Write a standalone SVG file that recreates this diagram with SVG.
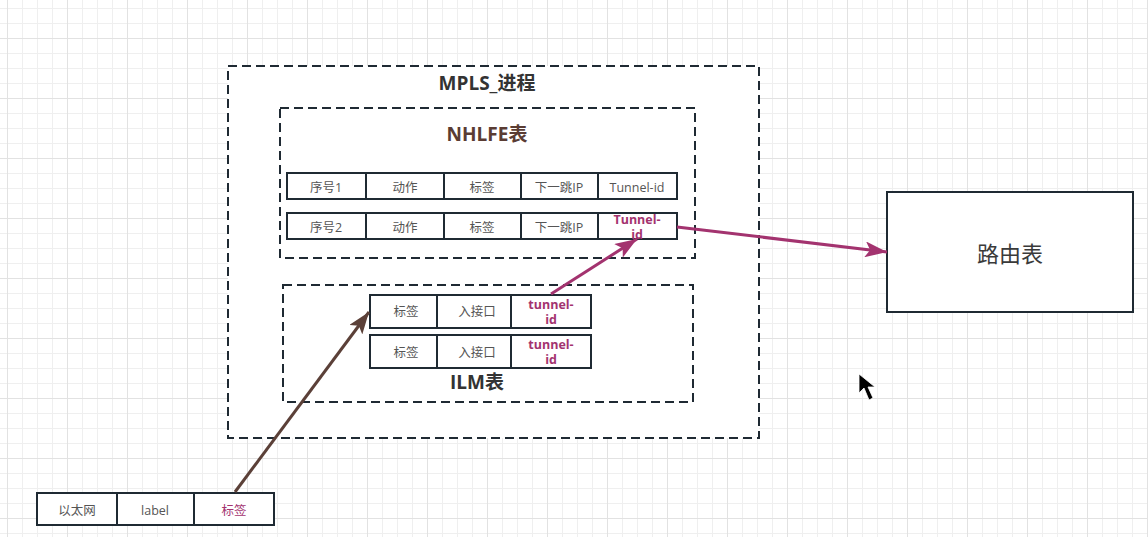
<svg xmlns="http://www.w3.org/2000/svg" width="1148" height="537" viewBox="0 0 1148 537">
<style>
.dash{fill:#fff;stroke:#1f2a33;stroke-width:2;stroke-dasharray:9 5}
.cell{fill:#fff;stroke:#1f2a33;stroke-width:2}
.t{font-family:"Open Sans","Noto Sans CJK SC",sans-serif;font-size:12.5px;fill:#555;text-anchor:middle;dominant-baseline:central}
.m{fill:#a3336f;font-weight:bold}
.title{font-family:"Open Sans","Noto Sans CJK SC",sans-serif;font-size:19px;font-weight:bold;fill:#333;text-anchor:middle;dominant-baseline:central}
.mag{stroke:#a3336f;stroke-width:3;fill:none}
.brn{stroke:#5b4038;stroke-width:3;fill:none}
</style>
<defs>
<pattern id="grid" patternUnits="userSpaceOnUse" x="7" y="38" width="60" height="60">
<path d="M15.5 0V60M30.5 0V60M45.5 0V60M0 15.5H60M0 30.5H60M0 45.5H60" stroke="#efefef" stroke-width="1"/>
<path d="M0.5 0V60M0 0.5H60" stroke="#e2e2e2" stroke-width="1"/>
</pattern>
<marker id="am" markerUnits="userSpaceOnUse" markerWidth="24" markerHeight="16" viewBox="0 0 24 16" refX="22" refY="8" orient="auto">
<path d="M0,0 L22,8 L0,16 L5,8 z" fill="#a3336f"/>
</marker>
<marker id="ab" markerUnits="userSpaceOnUse" markerWidth="24" markerHeight="16" viewBox="0 0 24 16" refX="22" refY="8" orient="auto">
<path d="M0,0 L22,8 L0,16 L5,8 z" fill="#5b4038"/>
</marker>
</defs>
<rect width="1148" height="537" fill="#fff"/>
<rect width="1148" height="537" fill="url(#grid)"/>

<g id="mpls">
<rect class="dash" x="228" y="66" width="531" height="372"/>
<text class="title" x="487" y="83">MPLS_进程</text>
</g>

<g id="nhlfe">
<rect class="dash" x="280" y="108" width="415" height="150"/>
<text class="title" x="487" y="134" style="fill:#5a3c33">NHLFE表</text>
</g>

<g id="nhlfe-row1">
<rect class="cell" x="287" y="173" width="79" height="26"/>
<rect class="cell" x="366" y="173" width="78" height="26"/>
<rect class="cell" x="444" y="173" width="77" height="26"/>
<rect class="cell" x="521" y="173" width="77" height="26"/>
<rect class="cell" x="598" y="173" width="79" height="26"/>
<text class="t" x="326" y="187">序号1</text>
<text class="t" x="405" y="187">动作</text>
<text class="t" x="482" y="187">标签</text>
<text class="t" x="559" y="187">下一跳IP</text>
<text class="t" x="637" y="187">Tunnel-id</text>
</g>

<g id="nhlfe-row2">
<rect class="cell" x="287" y="213" width="79" height="26"/>
<rect class="cell" x="366" y="213" width="78" height="26"/>
<rect class="cell" x="444" y="213" width="77" height="26"/>
<rect class="cell" x="521" y="213" width="77" height="26"/>
<rect class="cell" x="598" y="213" width="79" height="26"/>
<text class="t" x="326" y="227">序号2</text>
<text class="t" x="405" y="227">动作</text>
<text class="t" x="482" y="227">标签</text>
<text class="t" x="559" y="227">下一跳IP</text>
<text class="t m" x="637" y="219">Tunnel-</text>
<text class="t m" x="637" y="234">id</text>
</g>

<g id="ilm">
<rect class="dash" x="283" y="285" width="410" height="117"/>
<text class="title" x="477" y="382">ILM表</text>
</g>

<g id="ilm-row1">
<rect class="cell" x="370" y="295" width="67" height="33"/>
<rect class="cell" x="437" y="295" width="74" height="33"/>
<rect class="cell" x="511" y="295" width="80" height="33"/>
<text class="t" x="406" y="311">标签</text>
<text class="t" x="477" y="311">入接口</text>
<text class="t m" x="551" y="304">tunnel-</text>
<text class="t m" x="551" y="319">id</text>
</g>

<g id="ilm-row2">
<rect class="cell" x="370" y="335" width="67" height="33"/>
<rect class="cell" x="437" y="335" width="74" height="33"/>
<rect class="cell" x="511" y="335" width="80" height="33"/>
<text class="t" x="406" y="352">标签</text>
<text class="t" x="477" y="352">入接口</text>
<text class="t m" x="551" y="344">tunnel-</text>
<text class="t m" x="551" y="359">id</text>
</g>

<g id="ethernet">
<rect class="cell" x="37" y="493" width="80" height="32"/>
<rect class="cell" x="117" y="493" width="77" height="32"/>
<rect class="cell" x="194" y="493" width="80" height="32"/>
<text class="t" x="77" y="510">以太网</text>
<text class="t" x="155" y="510">label</text>
<text class="t" x="234" y="510" style="fill:#a3336f">标签</text>
</g>

<g id="route">
<rect class="cell" x="887" y="192" width="246" height="120"/>
<text class="t" x="1010" y="253" style="font-size:22px;fill:#3a3a3a">路由表</text>
</g>

<g id="connectors">
<line class="brn" x1="235" y1="492" x2="369" y2="312" marker-end="url(#ab)"/>
<line class="mag" x1="551" y1="294" x2="637" y2="239" marker-end="url(#am)"/>
<line class="mag" x1="677" y1="227" x2="887" y2="252" marker-end="url(#am)"/>
</g>

<polygon points="859,374 859,393 864,388 869,400 873,398 868,387 875,387" fill="#000" stroke="#fff" stroke-width="0.8"/>
</svg>
